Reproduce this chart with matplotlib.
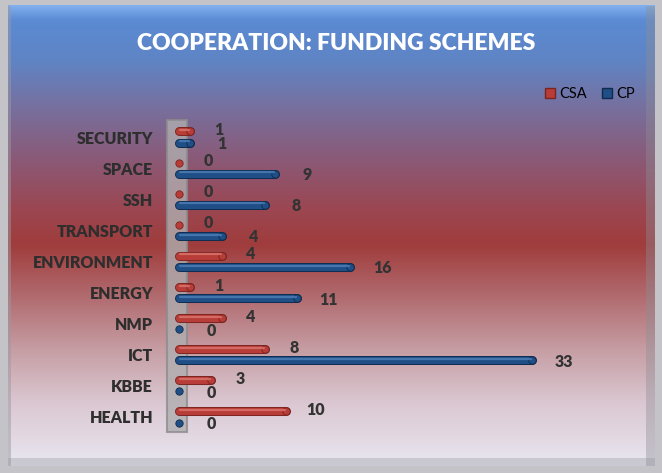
import matplotlib
matplotlib.use("Agg")
import matplotlib.pyplot as plt
import numpy as np
from matplotlib.colors import LinearSegmentedColormap
from matplotlib.patches import Rectangle, Patch

# data (bottom to top)
categories = ["HEALTH", "KBBE", "ICT", "NMP", "ENERGY",
              "ENVIRONMENT", "TRANSPORT", "SSH", "SPACE", "SECURITY"]
csa = [10, 3, 8, 4, 1, 4, 0, 0, 0, 1]
cp = [0, 0, 33, 0, 11, 16, 4, 8, 9, 1]

W, H = 662, 473
FONT = "Lato"
fig = plt.figure(figsize=(W / 100, H / 100), dpi=100)
fig.patch.set_facecolor("#c4c4c8")

# background panel with vertical gradient
bg = fig.add_axes([0, 0, 1, 1])
bg.set_xlim(0, W)
bg.set_ylim(H, 0)
bg.axis("off")
stops = [(0.0, "#80b0ee"), (0.03, "#5b8bd4"), (0.12, "#5f84c4"), (0.22, "#77709f"),
         (0.33, "#8a5a78"), (0.44, "#9b4752"), (0.52, "#a03c3c"), (0.64, "#b26e72"),
         (0.75, "#c69ea4"), (0.86, "#dac6d0"), (1.0, "#e9e7f1")]
cmap = LinearSegmentedColormap.from_list("panel", stops)
grad = np.linspace(0, 1, 256).reshape(-1, 1)
bg.imshow(grad, cmap=cmap, aspect="auto", extent=(8, 655, 466, 6), interpolation="bicubic")
# bevel shading
bg.add_patch(Rectangle((8, 458), 647, 8, color="#a6a6ac", alpha=0.45, lw=0))
bg.add_patch(Rectangle((646, 6), 9, 460, color="#8e8e96", alpha=0.4, lw=0))
bg.add_patch(Rectangle((8, 6), 3, 460, color="#9a9aa2", alpha=0.5, lw=0))

# main axes: 0 at x=179px, 10.7 px per unit
x0, ppu = 179, 10.7
ax = fig.add_axes([160 / W, (H - 440) / H, 480 / W, 330 / H])
ax.set_xlim(-(x0 - 160) / ppu, (640 - x0) / ppu)
ax.set_ylim(-0.74, 9.87)
ax.patch.set_alpha(0)
for s in ax.spines.values():
    s.set_visible(False)
ax.set_xticks([])

y = np.arange(len(categories))
ax.set_yticks(y, categories)
ax.tick_params(axis="y", length=0, pad=5, labelsize=11.5, labelcolor="#2e2e2e")
for lb in ax.get_yticklabels():
    lb.set_fontweight("heavy")
    lb.set_family(FONT)

# grey wall
ax.add_patch(Rectangle((-(x0 - 167) / ppu, -0.48), 20 / ppu, 10.03, facecolor="#b0aeb0",
                       alpha=0.8, edgecolor="#8c8c8e", lw=1.5, zorder=1))

off = 0.18
series = [
    (csa, y + off, "#b83c37", "#7a2420", "#dc7670", (21, 1)),
    (cp, y - off, "#1f4f86", "#0f2b4c", "#4f7fb8", (23, -1)),
]
for vals, yy, main, dark, light, txt_off in series:
    vals = np.array(vals)
    ax.hlines(yy, 0, vals, colors=dark, lw=6.5, capstyle="round", zorder=3)
    ax.hlines(yy, 0, vals, colors=main, lw=5.2, capstyle="round", zorder=4)
    ax.scatter(vals, yy, s=28, color=main, edgecolors=dark, linewidths=0.6, zorder=4)
    nz = vals > 0
    ax.hlines(yy[nz] + 0.045, 0.1, vals[nz] - 0.1, colors=light, lw=1.6,
              capstyle="round", alpha=0.8, zorder=5)
    for v, yv in zip(vals, yy):
        ax.annotate(str(v), (v, yv), xytext=txt_off, textcoords="offset points",
                    ha="center", va="center", fontsize=11.5, fontweight="heavy",
                    color="#333333", family=FONT, zorder=6)

fig.text(336 / W, 1 - 44 / H, "COOPERATION: FUNDING SCHEMES", color="white",
         fontsize=16.5, fontweight="heavy", family=FONT, ha="center", va="center")

handles = [Patch(facecolor="#b83c37", edgecolor="#7a2420", label="CSA"),
           Patch(facecolor="#1f4f86", edgecolor="#0f2b4c", label="CP")]
fig.legend(handles=handles, loc="center", bbox_to_anchor=(590 / W, 1 - 94 / H), ncol=2,
           frameon=False, handlelength=0.7, handleheight=0.7, handletextpad=0.3,
           columnspacing=1.0, prop={"family": FONT, "size": 10.5})

fig.savefig("out.png", dpi=100)
